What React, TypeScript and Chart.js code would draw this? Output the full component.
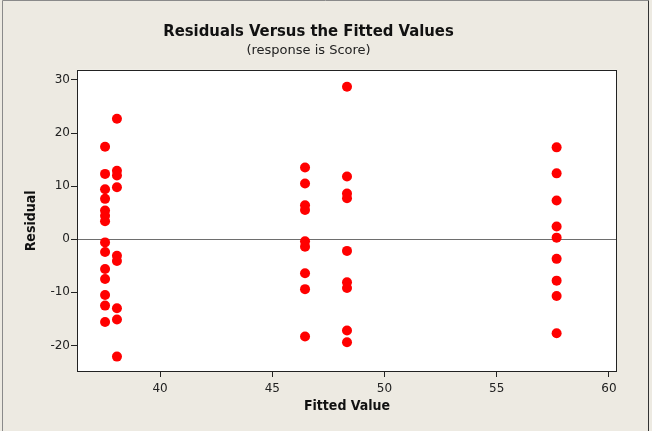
import React, { useEffect, useRef } from "react";
import { Chart, registerables } from "chart.js";

Chart.register(...registerables);

const FONT_COND = "'DejaVu Sans Condensed', 'DejaVu Sans', sans-serif";
const FONT = "'DejaVu Sans', sans-serif";

const titleText = "Residuals Versus the Fitted Values";
const subtitleText = "(response is Score)";
const xTitle = "Fitted Value";
const yTitle = "Residual";

const xTicks = [40, 45, 50, 55, 60];
const yTicks = [-20, -10, 0, 10, 20, 30];

const fittedGroups = [37.55, 38.08, 46.46, 48.33, 57.67];
const residualsG1 = [17.4, 12.3, 9.4, 7.6, 5.4, 4.4, 3.4, -0.6, -2.4, -5.6, -7.5, -10.5, -12.5, -15.6];
const residualsG2 = [22.7, 12.9, 12.0, 9.8, -3.1, -4.1, -13.0, -15.1, -22.1];
const residualsG3 = [13.5, 10.5, 6.4, 5.5, -0.4, -1.4, -6.4, -9.4, -18.3];
const residualsG4 = [28.7, 11.8, 8.6, 7.7, -2.2, -8.1, -9.2, -17.2, -19.4];
const residualsG5 = [17.3, 12.4, 7.3, 2.4, 0.3, -3.7, -7.8, -10.7, -17.7];
const residualGroups = [residualsG1, residualsG2, residualsG3, residualsG4, residualsG5];

const frameAndBgPlugin = {
  id: "frameAndBg",
  beforeDraw(chart: any) {
    const { ctx, width, height, chartArea } = chart;
    ctx.save();
    ctx.fillStyle = "#EDEAE2";
    ctx.fillRect(0, 0, width, height);
    ctx.fillStyle = "#FFFFFF";
    ctx.fillRect(chartArea.left, chartArea.top, chartArea.right - chartArea.left, chartArea.bottom - chartArea.top);
    ctx.lineWidth = 1;
    ctx.strokeStyle = "#8A8A8A";
    ctx.beginPath();
    ctx.moveTo(2.5, height);
    ctx.lineTo(2.5, 0.5);
    ctx.lineTo(648.5, 0.5);
    ctx.stroke();
    ctx.strokeStyle = "#333333";
    ctx.beginPath();
    ctx.moveTo(648.5, 0.5);
    ctx.lineTo(648.5, height);
    ctx.stroke();
    ctx.restore();
  },
  beforeDatasetsDraw(chart: any) {
    const { ctx, chartArea, scales } = chart;
    const y0 = Math.round(scales.y.getPixelForValue(0)) + 0.5;
    ctx.save();
    ctx.strokeStyle = "#6E6E6E";
    ctx.lineWidth = 1;
    ctx.beginPath();
    ctx.moveTo(chartArea.left, y0);
    ctx.lineTo(chartArea.right, y0);
    ctx.stroke();
    ctx.restore();
  },
  afterDraw(chart: any) {
    const { ctx, chartArea } = chart;
    ctx.save();
    ctx.strokeStyle = "#222222";
    ctx.lineWidth = 1;
    ctx.strokeRect(
      Math.round(chartArea.left) + 0.5,
      Math.round(chartArea.top) + 0.5,
      Math.round(chartArea.right - chartArea.left) - 1,
      Math.round(chartArea.bottom - chartArea.top) - 1
    );
    ctx.restore();
  },
};

export default function App() {
  const ref = useRef<HTMLCanvasElement | null>(null);
  useEffect(() => {
    if (!ref.current) return;
    const points: { x: number; y: number }[] = [];
    fittedGroups.forEach((fx, i) => {
      residualGroups[i].forEach((r) => points.push({ x: fx, y: r }));
    });
    const chart = new Chart(ref.current, {
      type: "scatter",
      data: {
        datasets: [
          {
            data: points,
            backgroundColor: "#FF0000",
            borderWidth: 0,
            pointRadius: 5,
            pointHoverRadius: 5,
          },
        ],
      },
      options: {
        animation: false,
        responsive: false,
        devicePixelRatio: 1,
        layout: { padding: { left: 0, right: 35, top: 0, bottom: 0 } },
        plugins: {
          legend: { display: false },
          tooltip: { enabled: false },
          title: {
            display: true,
            text: titleText,
            color: "#111111",
            font: { family: FONT_COND, size: 16.5, weight: "bold", lineHeight: 1.2 },
            padding: { top: 21.8, bottom: 1.6 },
          },
          subtitle: {
            display: true,
            text: subtitleText,
            color: "#222222",
            font: { family: FONT, size: 13, lineHeight: 1.2 },
            padding: { top: 0, bottom: 11 },
          },
        },
        scales: {
          x: {
            type: "linear",
            min: 36.3,
            max: 60.36,
            afterFit(scale: any) {
              scale.height = 59;
            },
            afterBuildTicks(scale: any) {
              scale.ticks = xTicks.map((v) => ({ value: v }));
            },
            border: { display: false },
            grid: {
              display: true,
              drawOnChartArea: false,
              drawTicks: true,
              tickLength: 5,
              color: "#222222",
            },
            ticks: {
              color: "#222222",
              padding: 5,
              maxRotation: 0,
              font: { family: FONT, size: 12 },
              callback: (v: any) => String(v),
            },
            title: {
              display: true,
              text: xTitle,
              color: "#111111",
              font: { family: FONT_COND, size: 14, weight: "bold", lineHeight: 1.2 },
              padding: { top: 0, bottom: 15.9 },
            },
          },
          y: {
            type: "linear",
            min: -25,
            max: 31.9,
            afterFit(scale: any) {
              scale.width = 77;
            },
            afterBuildTicks(scale: any) {
              scale.ticks = yTicks.map((v) => ({ value: v }));
            },
            border: { display: false },
            grid: {
              display: true,
              drawOnChartArea: false,
              drawTicks: true,
              tickLength: 6,
              color: "#222222",
            },
            ticks: {
              color: "#222222",
              padding: 1,
              font: { family: FONT, size: 12 },
              callback: (v: any) => String(v),
            },
            title: {
              display: true,
              text: yTitle,
              color: "#111111",
              font: { family: FONT_COND, size: 14, weight: "bold", lineHeight: 1.2 },
              padding: { top: 22.6, bottom: 0 },
            },
          },
        },
      },
      plugins: [frameAndBgPlugin],
    });
    return () => chart.destroy();
  }, []);
  return (
    <div style={{ position: "fixed", left: 0, top: 0, width: 652, height: 431 }}>
      <canvas ref={ref} width={652} height={431} style={{ width: 652, height: 431, display: "block" }} />
    </div>
  );
}
